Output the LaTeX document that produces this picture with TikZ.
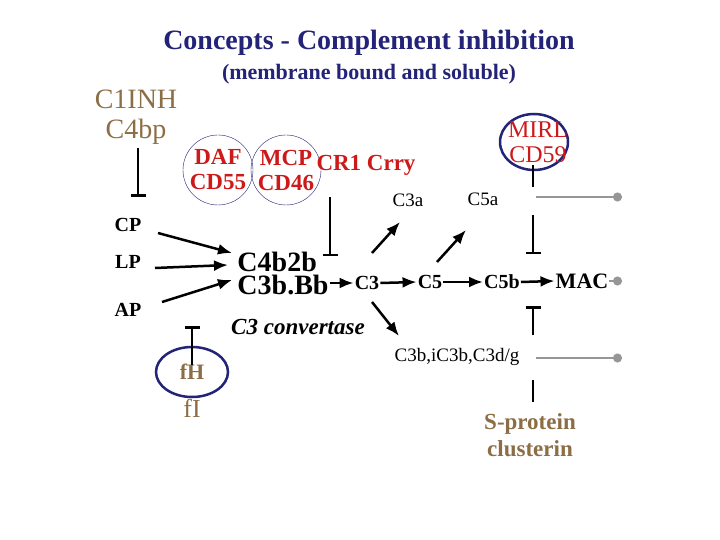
\documentclass[tikz,border=0pt]{standalone}
\usepackage{fontspec}
\setmainfont{Liberation Serif}
\usetikzlibrary{arrows.meta,shapes.geometric}
\definecolor{navy}{RGB}{35,35,120}
\definecolor{brn}{RGB}{140,110,70}
\definecolor{rd}{RGB}{205,25,25}
\definecolor{gry}{RGB}{150,150,150}
\begin{document}
\begin{tikzpicture}[x=1pt,y=-1pt,
  act/.style={line width=2.5pt,-{Latex[length=14pt,width=11pt]}},
  inh/.style={line width=2.5pt,-{Bar[width=15pt]}},
  gl/.style={gry,line width=1.6pt,-{Circle[length=9pt]}},
  lbl/.style={inner sep=1pt,font=\bfseries\fontsize{20}{20}\selectfont},
  sm/.style={inner sep=1pt,font=\fontsize{19}{19}\selectfont},
  big/.style={inner sep=1pt,font=\bfseries\fontsize{28}{23}\selectfont,align=left},
  red/.style={rd,inner sep=0pt,font=\bfseries\fontsize{23}{25}\selectfont,align=center}]
\useasboundingbox (0,0) rectangle (720,540);
\node[navy,font=\bfseries\fontsize{28}{28}\selectfont] (t) at (369,43) {Concepts - Complement inhibition};
\node[navy,font=\bfseries\fontsize{22}{22}\selectfont] (st) at (369,74) {(membrane bound and soluble)};
\node[brn,font=\fontsize{28}{30}\selectfont,align=center] (c1) at (136,117) {C1INH\\C4bp};
\node[lbl] (cp) at (128,225) {CP};
\node[lbl] (lp) at (128,262) {LP};
\node[lbl] (ap) at (128,310) {AP};
\node[big] (cc) at (283,273) {C4b2b\\C3b.Bb};
\node[draw=navy,circle,minimum size=70pt,inner sep=0pt] (dafc) at (218,170) {};
\node[draw=navy,circle,minimum size=70pt,inner sep=0pt] (mcpc) at (286,170) {};
\node[red] (daf) at (218,170) {DAF\\CD55};
\node[red] (mcp) at (286,170) {MCP\\CD46};
\node[red] (cr1) at (366,165) {CR1 Crry};
\node[lbl] (c3) at (367,283) {C3};
\node[lbl] (c5) at (430,282) {C5};
\node[lbl] (c5b) at (502,282) {C5b};
\node[lbl,font=\bfseries\fontsize{22}{22}\selectfont] (mac) at (582,281) {MAC};
\node[sm] (c3a) at (408,200) {C3a};
\node[sm] (c5a) at (483,199) {C5a};
\node[inner sep=1pt,font=\bfseries\itshape\fontsize{23}{23}\selectfont] (conv) at (298,327) {C3 convertase};
\node[draw=navy,line width=2.5pt,ellipse,minimum width=68pt,minimum height=56pt,inner sep=0pt] (mirlc) at (534,142) {};
\node[red,font=\fontsize{24}{25}\selectfont] (mirl) at (538,142) {MIRL\\CD59};
\node[sm] (c3b) at (457,357) {C3b,iC3b,C3d/g};
\node[brn,inner sep=1pt,font=\bfseries\fontsize{23}{27}\selectfont,align=center] (sp) at (530,435) {S-protein\\clusterin};
\node[draw=navy,line width=2.5pt,ellipse,minimum width=72pt,minimum height=50pt,inner sep=0pt] (fhc) at (192,372) {};
\node[brn,font=\bfseries\fontsize{22}{22}\selectfont] (fh) at (192,372) {fH};
\node[brn,font=\fontsize{26}{26}\selectfont] (fi) at (192,408) {fI};
\coordinate (a1) at (138,148); \coordinate (a2) at (138,197);
\draw[inh] (a1) -- (a2);
\draw[act] (158,233) -- (232,253);
\draw[act] (155,268) -- (228,265);
\draw[act] (162,302) -- (232,280);
\coordinate (b1) at (330,197); \coordinate (b2) at (330,256);
\draw[inh] (b1) -- (b2);
\draw[act] (cc.east |- c3) -- (c3.west);
\draw[act] (c3.east) -- (c5.west);
\draw[act] (c5.east) -- (c5b.west);
\draw[act] (c5b.east) -- (mac.west);
\draw[act] (372,253) -- (400,222);
\draw[act] (437,262) -- (466,230);
\draw[act] (372,302) -- (399,336);
\draw[line width=2.5pt] (533,165) -- (533,187);
\draw[inh] (533,215) -- (533,254);
\draw[inh] (533,335) -- (533,306);
\draw[line width=2.5pt] (533,380) -- (533,402);
\draw[inh] (192,365) -- (192,326);
\coordinate (g1) at (622,197); \coordinate (g2) at (622,281); \coordinate (g3) at (622,358);
\draw[gl] (536,197) -- (g1);
\draw[gl] (mac.east) -- (g2);
\draw[gl] (536,358) -- (g3);
\end{tikzpicture}
\end{document}
